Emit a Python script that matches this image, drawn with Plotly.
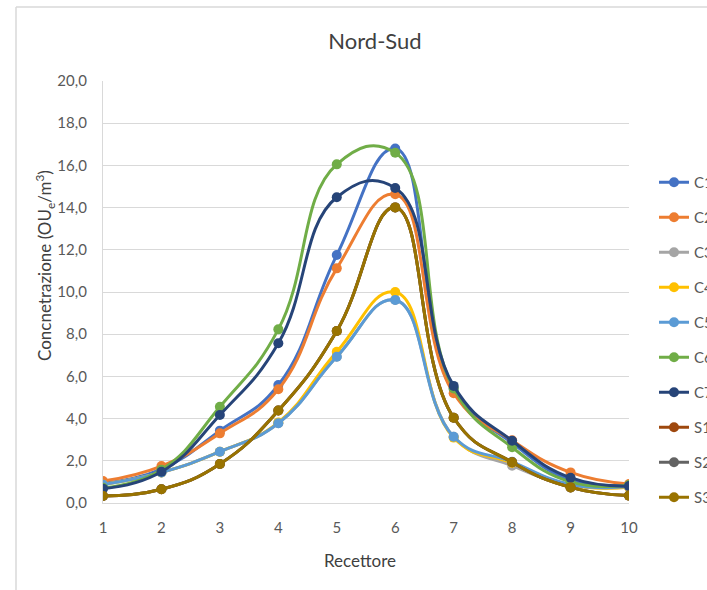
import plotly.graph_objects as go

recettore = [1, 2, 3, 4, 5, 6, 7, 8, 9, 10]

C1 = [0.93, 1.60, 3.43, 5.59, 11.75, 16.80, 5.40, 2.85, 1.10, 0.85]
C2 = [1.04, 1.75, 3.30, 5.39, 11.12, 14.63, 5.20, 2.97, 1.45, 0.90]
C3 = [0.87, 1.45, 2.43, 3.78, 6.93, 9.62, 3.14, 1.77, 0.85, 0.75]
C4 = [0.87, 1.45, 2.43, 3.82, 7.17, 10.00, 3.10, 1.90, 0.85, 0.75]
C5 = [0.87, 1.45, 2.43, 3.78, 6.93, 9.62, 3.14, 1.95, 0.88, 0.78]
C6 = [0.72, 1.58, 4.56, 8.23, 16.05, 16.60, 5.43, 2.64, 1.00, 0.85]
C7 = [0.68, 1.48, 4.17, 7.57, 14.49, 14.93, 5.55, 2.95, 1.20, 0.80]
S1 = [0.33, 0.65, 1.85, 4.38, 8.15, 14.01, 4.04, 1.93, 0.74, 0.35]
S2 = [0.33, 0.65, 1.85, 4.38, 8.15, 14.01, 4.04, 1.93, 0.74, 0.35]
S3 = [0.33, 0.65, 1.85, 4.38, 8.15, 14.01, 4.04, 1.93, 0.74, 0.35]

series_names = ["C1", "C2", "C3", "C4", "C5", "C6", "C7", "S1", "S2", "S3"]
series_values = [C1, C2, C3, C4, C5, C6, C7, S1, S2, S3]
series_colors = ["#4472C4", "#ED7D31", "#A5A5A5", "#FFC000", "#5B9BD5",
                 "#70AD47", "#264478", "#9E480E", "#636363", "#997300"]

y_tick_values = [0, 2, 4, 6, 8, 10, 12, 14, 16, 18, 20]

FONT = "Lato, 'Open Sans', sans-serif"

# body margin is removed in post_script, so screen coords = figure coords
W, H = 707, 590
# plot area in pixels
L, R, T, B = 103, 629, 81, 503


def px_x(px):
    return (px - L) / (R - L)


def px_y(py):
    return (B - py) / (B - T)


fig = go.Figure()
for name, vals, col in zip(series_names, series_values, series_colors):
    fig.add_trace(go.Scatter(
        x=recettore, y=vals, name=name, legendgroup=name,
        mode="lines+markers",
        line=dict(color=col, width=3, shape="spline", smoothing=1.3),
        marker=dict(color=col, size=10),
    ))

fig.update_layout(
    width=W, height=H,
    margin=dict(l=L, r=W - R, t=T, b=H - B, autoexpand=False),
    paper_bgcolor="white", plot_bgcolor="white",
    separators=",.",
    font=dict(family=FONT, color="#595959", size=14),
    title=dict(text="Nord-Sud", xref="paper", x=px_x(375), xanchor="center",
               yref="container", y=1 - 41 / H, yanchor="middle",
               font=dict(family=FONT, size=22, color="#404040")),
    xaxis=dict(range=[1, 10], tickvals=recettore, showgrid=False,
               showline=True, linecolor="#D9D9D9", linewidth=1.3,
               zeroline=False, ticks="", ticklabelstandoff=11,
               tickfont=dict(size=15, color="#595959")),
    yaxis=dict(range=[0, 20], tickvals=y_tick_values, tickformat=".1f",
               showgrid=True, gridcolor="#D9D9D9", gridwidth=1.3,
               showline=True, linecolor="#D9D9D9", linewidth=1.3,
               zeroline=False, ticks="", ticklabelstandoff=12,
               tickfont=dict(size=15, color="#595959")),
    legend=dict(x=px_x(654), xanchor="left", y=px_y(166), yanchor="top",
                font=dict(size=15, color="#595959"),
                tracegroupgap=12.5, bgcolor="rgba(0,0,0,0)"),
    showlegend=True,
)

# y-axis title
fig.add_annotation(text="Concnetrazione (OU<sub>e</sub>/m<sup>3</sup>)",
                   xref="paper", yref="paper", x=px_x(45), y=px_y(266),
                   xanchor="center", yanchor="middle",
                   textangle=-90, showarrow=False,
                   font=dict(family=FONT, size=17, color="#404040"))
# x-axis title
fig.add_annotation(text="Recettore", xref="paper", yref="paper",
                   x=px_x(360), y=px_y(560),
                   xanchor="center", yanchor="middle", showarrow=False,
                   font=dict(family=FONT, size=17, color="#404040"))

# chart-area border (left and top visible)
fig.add_shape(type="line", xref="paper", yref="paper",
              x0=px_x(16), x1=px_x(16), y0=px_y(700), y1=px_y(7),
              line=dict(color="#D9D9D9", width=1.5))
fig.add_shape(type="line", xref="paper", yref="paper",
              x0=px_x(16), x1=px_x(800), y0=px_y(7), y1=px_y(7),
              line=dict(color="#D9D9D9", width=1.5))

fig.write_html(
    "out.html",
    config={"displayModeBar": False},
    post_script="document.body.style.margin='0';"
                "document.body.style.overflow='hidden';",
)
